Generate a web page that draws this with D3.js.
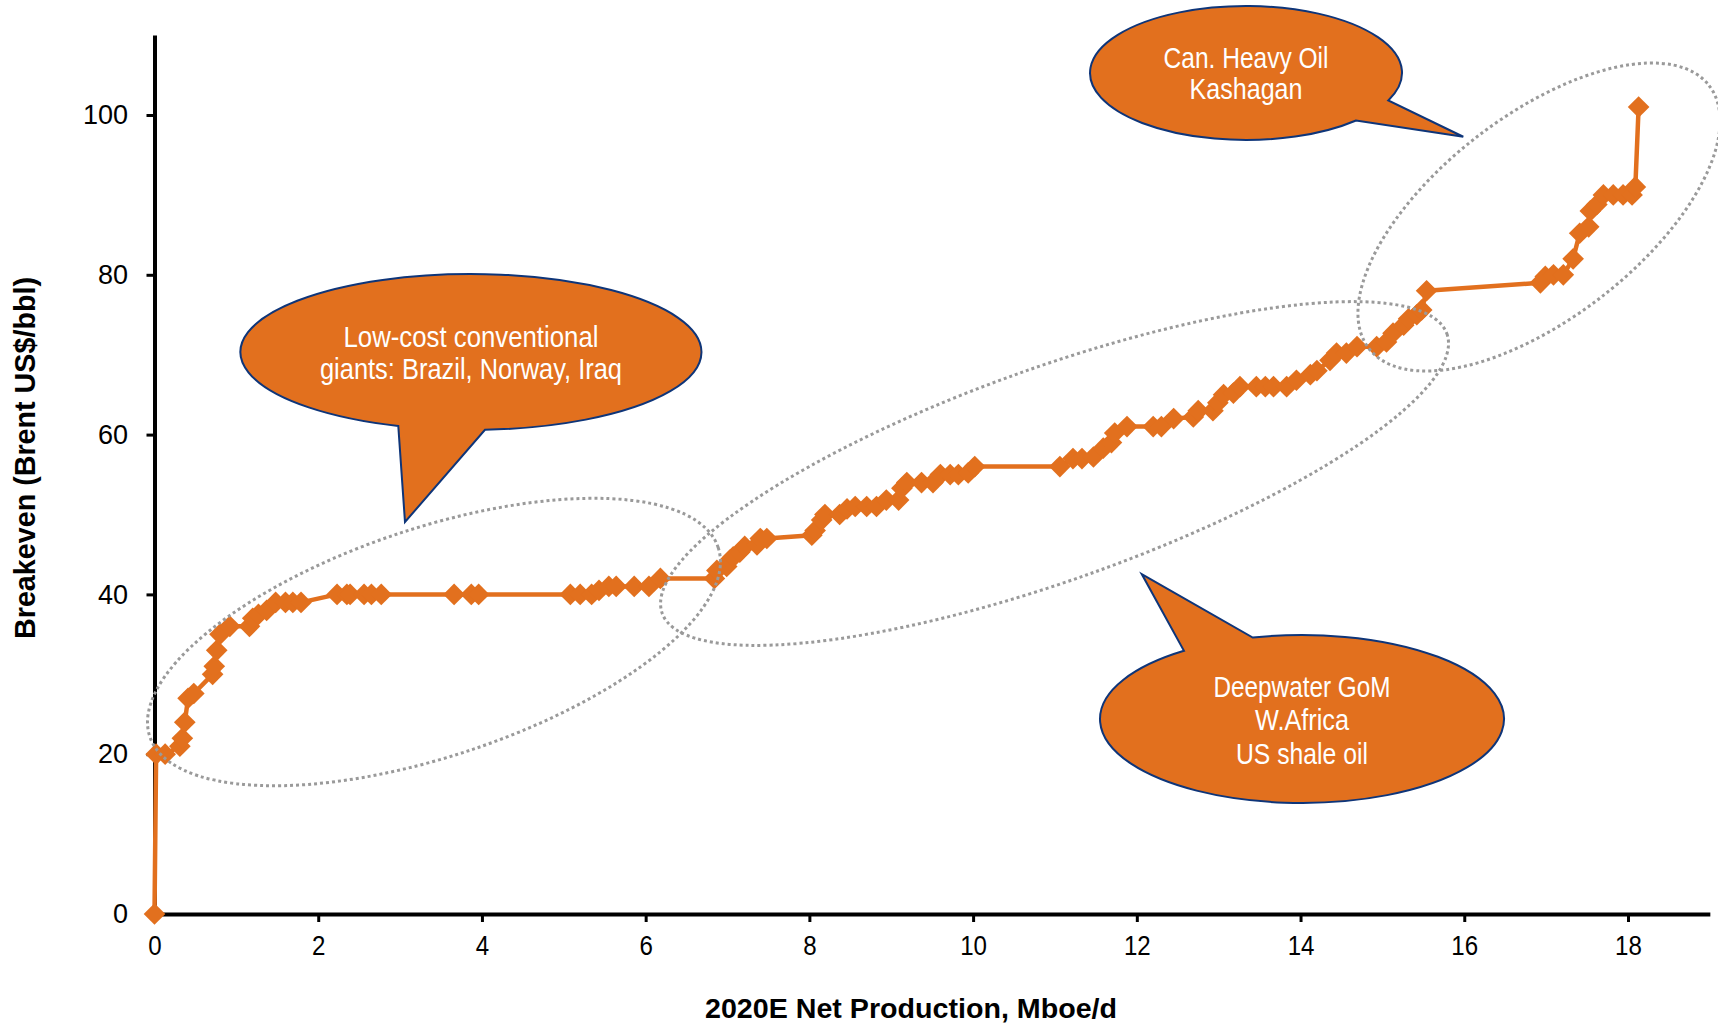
<!DOCTYPE html>
<html><head><meta charset="utf-8">
<script src="https://cdn.jsdelivr.net/npm/d3@7"></script>
<style>html,body{margin:0;padding:0;background:#fff;} svg{display:block;}</style>
</head><body>
<svg id="chart" width="1718" height="1029"></svg>
<script>
// ---------- data ----------
const production = [0,0.02,0.13,0.31,0.34,0.37,0.41,0.48,0.71,0.73,0.76,0.80,0.92,1.16,1.20,1.27,1.37,1.48,1.60,1.69,1.79,
  2.23,2.35,2.39,2.56,2.65,2.77,3.66,3.87,3.96,5.08,5.20,5.34,5.43,5.55,5.64,5.86,6.04,6.18,6.84,
  6.87,6.99,7.03,7.07,7.15,7.21,7.36,7.40,7.48,8.03,8.07,8.15,8.19,8.37,8.46,8.56,8.70,8.82,8.94,9.09,9.13,9.19,9.37,9.51,
  9.60,9.72,9.82,9.94,10.02,11.06,11.22,11.33,11.47,11.59,11.69,11.73,11.88,12.20,12.30,12.45,12.69,12.75,12.93,12.99,13.06,
  13.18,13.26,13.46,13.57,13.67,13.83,13.95,14.12,14.20,14.36,14.44,14.56,14.69,14.93,15.05,15.13,15.26,15.32,15.42,15.48,
  15.54,16.93,16.99,17.09,17.21,17.33,17.41,17.52,17.54,17.62,17.70,17.82,17.94,18.05,18.09,18.13];
const breakeven = [0,20,20,21,22,24,27,27.6,30,31,33,35,36,36,37,37.5,38,39,39,39,39,
  40,40,40,40,40,40,40,40,40,40,40,40,40.5,41,41,41,41,42,42,
  43,43.5,44.3,44.7,45.3,46,46.2,47,47,47.4,48,49.3,50,50,50.7,51,51,51,51.8,51.8,53.3,54,54,54,
  55,55,55,55.2,56,56,57,57,57.2,58.3,59,60.2,61,61,61,62,62.2,63,63,64,65,
  65.2,66,66,66,66,66,66.8,67.5,68,69.3,70.2,70.2,71,71,71.6,72.7,73.7,74.5,75,75.6,
  78,79,79.8,80,80,82,85.2,86,88,88.8,90,90,90,90,91,101];
const xTickValues = [0,2,4,6,8,10,12,14,16,18];
const yTickValues = [0,20,40,60,80,100];
const xAxisTitle = "2020E Net Production, Mboe/d";
const yAxisTitle = "Breakeven (Brent US$/bbl)";

// annotations (positions in data units)
const calloutLines = [["Low-cost conventional","giants: Brazil, Norway, Iraq"],["Can. Heavy Oil","Kashagan"],["Deepwater GoM","W.Africa","US shale oil"]];
const calloutCenters = [[3.866,70.34],[13.334,105.26],[14.018,24.41]];
const calloutTips = [[3.06,49.06],[15.988,97.28],[12.06,42.55]];
const calloutBaseX = [[2.978,4.037],[14.678,15.072],[12.576,13.416]];
const groupCenters = [[3.414,34.04],[10.995,55.13],[16.913,87.23]];

// ---------- layout / style ----------
const X0 = 154.5, X1 = 154.5 + 19*81.86, Y0 = 914, Y1 = 914 - 110*7.99;
const calloutRadii = [[230.5,78],[156,67],[202,84]];
const calloutSide = ["bottom","bottom","top"];
const calloutLineWidths = [[255,302],[165,113],[177,94,132]];
const calloutFirstBaseline = [-5,-5,-22];
const calloutLineGap = [32,31.5,33.5];
const groupRadii = [[299.5,114.1,-18.4],[416.5,106.3,-19.6],[215,101.4,-37.7]];
const ORANGE = "#E2701E", NAVY = "#0E3579";
const font = "'Liberation Sans',Arial,sans-serif";

const svg = d3.select("#chart");
const x = d3.scaleLinear().domain([0,19]).range([X0,X1]);
const y = d3.scaleLinear().domain([0,110]).range([Y0,Y1]);

// axes
const gx = svg.append("g").attr("transform",`translate(0,${Y0})`)
  .call(d3.axisBottom(x).tickValues(xTickValues).tickSizeInner(8).tickSizeOuter(0).tickPadding(13));
gx.select(".domain").attr("stroke","#000").attr("stroke-width",4);
gx.selectAll(".tick line").attr("stroke","#000").attr("stroke-width",3);
gx.selectAll(".tick text").attr("font-family",font).attr("font-size",28).attr("fill","#000")
  .attr("textLength",d=>String(d).length*13.4).attr("lengthAdjust","spacingAndGlyphs");

const gy = svg.append("g").attr("transform",`translate(${X0},0)`)
  .call(d3.axisLeft(y).tickValues(yTickValues).tickSizeInner(8).tickSizeOuter(0).tickPadding(18.5));
gy.select(".domain").attr("stroke","#000").attr("stroke-width",4);
gy.selectAll(".tick line").attr("stroke","#000").attr("stroke-width",3);
gy.selectAll(".tick text").attr("font-family",font).attr("font-size",27).attr("fill","#000");

// axis titles
svg.append("text").attr("x",(705+1117)/2).attr("y",1018).attr("text-anchor","middle")
  .attr("font-family",font).attr("font-weight","bold").attr("font-size",27)
  .attr("textLength",412).attr("lengthAdjust","spacingAndGlyphs").text(xAxisTitle);
svg.append("text").attr("transform","translate(35,458) rotate(-90)").attr("text-anchor","middle")
  .attr("font-family",font).attr("font-weight","bold").attr("font-size",30)
  .attr("textLength",362).attr("lengthAdjust","spacingAndGlyphs").text(yAxisTitle);

// data line + markers
const pts = production.map((p,i)=>[p,breakeven[i]]);
svg.append("path").datum(pts)
  .attr("d", d3.line().x(d=>x(d[0])).y(d=>y(d[1])))
  .attr("fill","none").attr("stroke",ORANGE).attr("stroke-width",4.5).attr("stroke-linejoin","round");
const sym = d3.symbol().type(d3.symbolSquare).size(235);
svg.append("g").selectAll("path").data(pts).join("path")
  .attr("d",sym).attr("fill",ORANGE)
  .attr("transform",d=>`translate(${x(d[0])},${y(d[1])}) rotate(45)`);

// dotted group ellipses
svg.append("g").selectAll("ellipse").data(groupCenters).join("ellipse")
  .attr("cx",0).attr("cy",0)
  .attr("rx",(d,i)=>groupRadii[i][0]).attr("ry",(d,i)=>groupRadii[i][1])
  .attr("transform",(d,i)=>`translate(${x(d[0])},${y(d[1])}) rotate(${groupRadii[i][2]})`)
  .attr("fill","none").attr("stroke","#9a9a9a").attr("stroke-width",3).attr("stroke-dasharray","3 3");

// callouts
calloutCenters.forEach((c,i)=>{
  const cx = x(c[0]), cy = y(c[1]);
  const [rx,ry] = calloutRadii[i];
  const sgn = calloutSide[i]==="bottom" ? 1 : -1;
  const bp = calloutBaseX[i].map(v=>{
    const px = x(v); const dx = (px-cx)/rx;
    return [px, cy + sgn*ry*Math.sqrt(Math.max(0,1-dx*dx))];
  });
  const start = sgn===1 ? bp[0] : bp[1];
  const end = sgn===1 ? bp[1] : bp[0];
  const tip = [x(calloutTips[i][0]), y(calloutTips[i][1])];
  const d = `M${start[0]},${start[1]} A${rx},${ry} 0 1 1 ${end[0]},${end[1]} L${tip[0]},${tip[1]} Z`;
  svg.append("path").attr("d",d).attr("fill",ORANGE).attr("stroke",NAVY).attr("stroke-width",2).attr("stroke-linejoin","miter");
  calloutLines[i].forEach((t,j)=>{
    svg.append("text").attr("x",cx).attr("y",cy+calloutFirstBaseline[i]+j*calloutLineGap[i])
      .attr("text-anchor","middle").attr("fill","#fff")
      .attr("font-family",font).attr("font-size",29)
      .attr("textLength",calloutLineWidths[i][j]).attr("lengthAdjust","spacingAndGlyphs").text(t);
  });
});
</script>
</body></html>
